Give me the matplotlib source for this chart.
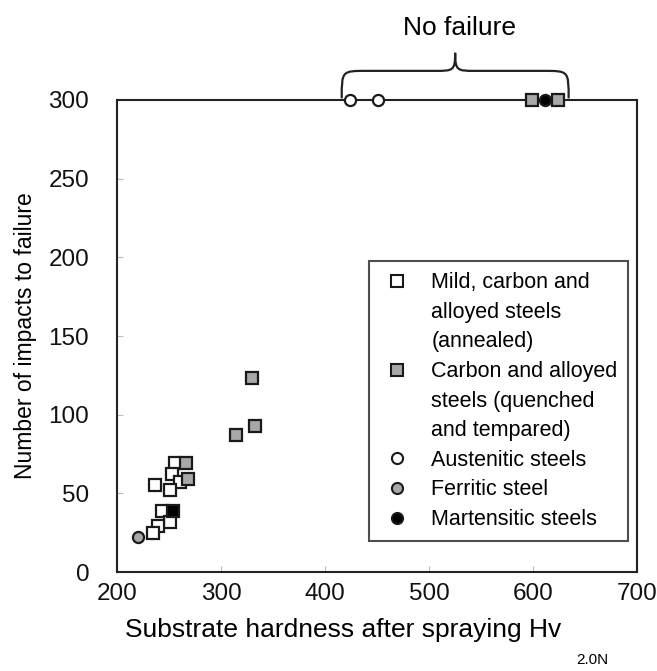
#!/usr/bin/env python3
"""Impacts to failure versus substrate hardness, with a 'No failure' brace on top."""

import matplotlib

matplotlib.use("Agg")
import matplotlib.pyplot as plt
from matplotlib.lines import Line2D
from matplotlib.patches import PathPatch
from matplotlib.path import Path

plt.rcParams["font.family"] = ["Liberation Sans", "DejaVu Sans"]

# mild, carbon and alloyed steels (annealed) - open squares
annealed_hv = [256, 253, 261, 237, 251, 243, 251, 239, 235]
annealed_n = [69, 62, 57, 55, 52, 39, 32, 29, 25]

# carbon and alloyed steels (quenched and tempared) - grey squares
quenched_hv = [330, 333, 314, 266, 268, 599, 624]
quenched_n = [123, 93, 87, 69, 59, 300, 300]

# austenitic steels - open circles (no failure)
austenitic_hv = [424, 451]
austenitic_n = [300, 300]

# ferritic steel - grey circle
ferritic_hv = [220]
ferritic_n = [22]

# martensitic steels - black circle (no failure)
martensitic_hv = [611]
martensitic_n = [300]

# black square in the low cluster
black_sq_hv = [254]
black_sq_n = [39]

x_ticks = [200, 300, 400, 500, 600, 700]
y_ticks = [0, 50, 100, 150, 200, 250, 300]

GREY = "#a8a8a8"
EDGE = "#1a1a1a"
MS = 8.0
MEW = 1.6


def draw_brace(ax, x0, x1, y_base, y_bar, y_tip):
    xm = (x0 + x1) / 2
    r = 24
    verts = [
        (x0, y_base),
        (x0, y_bar), (x0, y_bar), (x0 + r, y_bar),
        (xm - r * 0.8, y_bar),
        (xm - 2, y_bar), (xm, y_bar), (xm, y_tip),
        (xm, y_bar), (xm + 2, y_bar), (xm + r * 0.8, y_bar),
        (x1 - r, y_bar),
        (x1, y_bar), (x1, y_bar), (x1, y_base),
    ]
    codes = [
        Path.MOVETO,
        Path.CURVE4, Path.CURVE4, Path.CURVE4,
        Path.LINETO,
        Path.CURVE4, Path.CURVE4, Path.CURVE4,
        Path.CURVE4, Path.CURVE4, Path.CURVE4,
        Path.LINETO,
        Path.CURVE4, Path.CURVE4, Path.CURVE4,
    ]
    patch = PathPatch(Path(verts, codes), facecolor="none", edgecolor="#222222",
                      lw=1.6, clip_on=False)
    ax.add_patch(patch)


fig = plt.figure(figsize=(6.57, 6.71), dpi=100)
ax = fig.add_axes([0.178, 0.1475, 0.792, 0.7035])

common = dict(linestyle="none", markeredgecolor=EDGE, markeredgewidth=MEW,
              markersize=MS, clip_on=False)
ax.plot(annealed_hv, annealed_n, marker="s", markerfacecolor="white", zorder=3, **common)
ax.plot(quenched_hv, quenched_n, marker="s", markerfacecolor=GREY, zorder=4, **common)
ax.plot(black_sq_hv, black_sq_n, marker="s", markerfacecolor="black", zorder=4, **common)
ax.plot(austenitic_hv, austenitic_n, marker="o", markerfacecolor="white", zorder=5, **common)
ax.plot(ferritic_hv, ferritic_n, marker="o", markerfacecolor=GREY, zorder=5, **common)
ax.plot(martensitic_hv, martensitic_n, marker="o", markerfacecolor="black", zorder=6, **common)

ax.set_xlim(200, 700)
ax.set_ylim(0, 300)
ax.set_xticks(x_ticks)
ax.set_yticks(y_ticks)
ax.tick_params(direction="in", length=4, width=0.8, color="#bbbbbb",
               labelsize=17.5, labelcolor="#111111")
ax.tick_params(axis="y", pad=20)
ax.tick_params(axis="x", pad=8)
for sp in ax.spines.values():
    sp.set_linewidth(1.5)
    sp.set_color("#222222")

# x label with a small, low subscript placed separately
ax.set_xlabel("Substrate hardness after spraying Hv", fontsize=19, va="center")
ax.xaxis.set_label_coords(0.434, -0.123)
ax.text(0.883, -0.186, "2.0N", transform=ax.transAxes, fontsize=11,
        ha="left", va="center")
ax.set_ylabel("Number of impacts to failure", fontsize=16.5, labelpad=8)

# brace over the runs that did not fail
draw_brace(ax, 416, 634, 301, 318.5, 330)
ax.text(529, 345.5, "No failure", ha="center", va="center", fontsize=19,
        clip_on=False)

# legend, with extra rows so wrapped labels keep the marker on the first line
blank = Line2D([], [], linestyle="none", marker=None)
lk = dict(linestyle="none", markeredgecolor=EDGE, markeredgewidth=1.5, markersize=8)
handles = [
    Line2D([], [], marker="s", markerfacecolor="white", **lk), blank, blank,
    Line2D([], [], marker="s", markerfacecolor=GREY, **lk), blank, blank,
    Line2D([], [], marker="o", markerfacecolor="white", **lk),
    Line2D([], [], marker="o", markerfacecolor=GREY, **lk),
    Line2D([], [], marker="o", markerfacecolor="black", **lk),
]
labels = [
    "Mild, carbon and", "alloyed steels", "(annealed)",
    "Carbon and alloyed", "steels (quenched", "and tempared)",
    "Austenitic steels", "Ferritic steel", "Martensitic steels",
]
leg = ax.legend(handles, labels, loc="lower right", bbox_to_anchor=(0.983, 0.066),
                fontsize=15.5, frameon=True, fancybox=False, edgecolor="#222222",
                handlelength=1.6, handletextpad=0.8, labelspacing=0.4,
                borderpad=0.5, borderaxespad=0.0)
leg.get_frame().set_linewidth(1.5)

fig.savefig("out.png", dpi=100, facecolor="white")
